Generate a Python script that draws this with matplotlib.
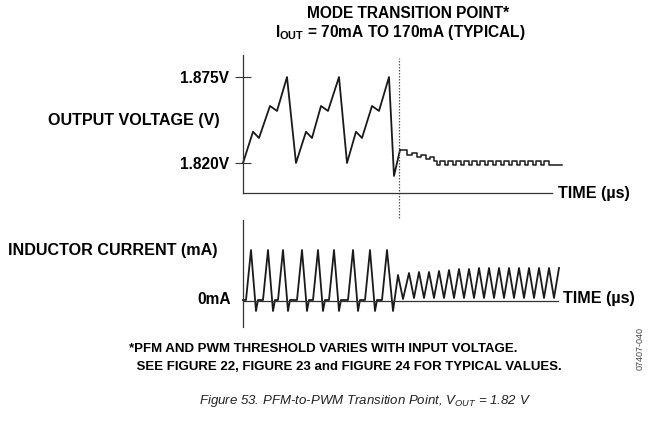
import matplotlib.pyplot as plt

plt.rcParams['font.family'] = ['Liberation Sans', 'DejaVu Sans']
plt.rcParams['mathtext.fontset'] = 'custom'
plt.rcParams['mathtext.rm'] = 'Liberation Sans'
plt.rcParams['mathtext.bf'] = 'Liberation Sans:bold'
plt.rcParams['mathtext.it'] = 'Liberation Sans:italic'

# output voltage, PFM part (time in us, volts)
t_pfm_v = [0.0, 1.0, 1.6, 2.7, 3.4, 4.4, 5.3, 6.3, 6.9, 7.8, 8.5, 9.6,
           10.4, 11.3, 11.9, 12.9, 13.6, 14.6, 15.1, 15.7]
v_pfm = [1.820, 1.840, 1.836, 1.8565, 1.8533, 1.875, 1.820, 1.840, 1.836,
         1.8565, 1.8533, 1.875, 1.820, 1.840, 1.836, 1.8565, 1.8533, 1.875,
         1.8117, 1.8283]

# output voltage, PWM part (step levels)
t_pwm_v = [15.7, 16.4, 16.9, 17.4, 17.8, 18.3, 18.7, 19.1,
           19.4, 19.7, 20.2, 20.5, 21.0, 21.3, 21.8, 22.1, 22.6, 22.9,
           23.4, 23.7, 24.2, 24.5, 25.0, 25.3, 25.8, 26.1, 26.6, 26.9,
           27.4, 27.7, 28.2, 28.5, 29.0, 29.3, 29.8, 30.1, 30.6, 31.9]
v_pwm = [1.8283, 1.8251, 1.8264, 1.8238, 1.8251, 1.8226, 1.8238, 1.8213,
         1.8187, 1.8213, 1.8187, 1.8213, 1.8187, 1.8213, 1.8187, 1.8213,
         1.8187, 1.8213, 1.8187, 1.8213, 1.8187, 1.8213, 1.8187, 1.8213,
         1.8187, 1.8213, 1.8187, 1.8213, 1.8187, 1.8213, 1.8187, 1.8213,
         1.8187, 1.8213, 1.8187, 1.8213, 1.8187, 1.8187]

# inductor current (mA)
t_pfm_i = [0.0, 0.3, 0.8, 1.3, 1.5, 2.0, 2.5, 3.0, 3.2, 3.5, 4.0, 4.5, 4.7,
           5.4, 5.9, 6.4, 6.6, 7.0, 7.5, 8.0, 8.2, 8.6, 9.1, 9.6, 9.8,
           10.5, 11.0, 11.5, 11.7, 12.2, 12.7, 13.2, 13.4, 13.9, 14.4, 15.0]
i_pfm = [5, 5, 255, -50, 5, 5, 255, -50, 5, 5, 255, -50, 5,
         5, 255, -50, 5, 5, 255, -50, 5, 5, 255, -50, 5,
         5, 255, -50, 5, 5, 255, -50, 5, 5, 255, -50]
t_pwm_i = [15.5, 16.0, 16.6, 17.1, 17.6, 18.1, 18.6, 19.1, 19.6, 20.1,
           20.6, 21.1, 21.6, 22.1, 22.6, 23.1, 23.6, 24.1, 24.6, 25.1,
           25.6, 26.1, 26.6, 27.1, 27.6, 28.1, 28.6, 29.1, 29.6, 30.1,
           30.6, 31.1, 31.6]
i_pwm = [130, 10, 140, 15, 145, 15, 145, 15, 150, 15,
         155, 15, 160, 15, 160, 15, 165, 15, 165, 15,
         165, 15, 165, 15, 165, 15, 165, 15, 165, 15,
         165, 15, 165]

t_transition = 15.6
v_ticks = [1.875, 1.820]
v_ticklabels = ['1.875V', '1.820V']

W, H = 656, 424


def fx(x):
    return x / W


def fy(y):
    return 1 - y / H


fig = plt.figure(figsize=(6.56, 4.24), dpi=100)

# top panel: output voltage
ax1 = fig.add_axes([fx(243), fy(193), (552 - 243) / W, (193 - 55) / H])
ax1.plot(t_pfm_v, v_pfm, color='#1a1a1a', lw=1.3, clip_on=False)
ax1.plot(t_pwm_v, v_pwm, color='#1a1a1a', lw=1.1, drawstyle='steps-post',
         clip_on=False)
ax1.set_xlim(0, 30.9)
ax1.set_ylim(1.8008, 1.8891)
ax1.set_xticks([])
ax1.set_yticks(v_ticks)
ax1.set_yticklabels(v_ticklabels, fontsize=11.2, fontweight='bold')
ax1.tick_params(axis='y', direction='inout', length=12, width=0.8,
                color='#333333', pad=4)
for s in ['top', 'right']:
    ax1.spines[s].set_visible(False)
for s in ['left', 'bottom']:
    ax1.spines[s].set_linewidth(0.9)
    ax1.spines[s].set_color('#333333')
ax1.axvline(t_transition, ymin=-0.92, ymax=0.978, clip_on=False,
            color='#555555', lw=0.9, ls=(0, (1.2, 1.2)))

# bottom panel: inductor current
ax2 = fig.add_axes([fx(243), fy(327), (558 - 243) / W, (327 - 220) / H])
ax2.plot(t_pfm_i + t_pwm_i, i_pfm + i_pwm, color='#1a1a1a', lw=1.3,
         clip_on=False)
ax2.set_xlim(0, 31.5)
ax2.set_ylim(-130, 405)
ax2.set_xticks([])
ax2.set_yticks([])
ax2.spines['bottom'].set_position(('data', 0))
for s in ['top', 'right']:
    ax2.spines[s].set_visible(False)
for s in ['left', 'bottom']:
    ax2.spines[s].set_linewidth(0.9)
    ax2.spines[s].set_color('#333333')

title = dict(fontsize=11.2, fontweight='bold', color='black')
bold = dict(fontsize=11.6, fontweight='bold', color='black')
foot = dict(fontsize=9.5, fontweight='bold', color='black')
fig.text(fx(408), fy(13), 'MODE TRANSITION POINT*', ha='center', va='center', **title)
fig.text(fx(400), fy(32), r'$\mathbf{I_{OUT}}$ = 70mA TO 170mA (TYPICAL)',
         ha='center', va='center', **title)
fig.text(fx(48), fy(120), 'OUTPUT VOLTAGE (V)', ha='left', va='center', **bold)
fig.text(fx(558), fy(193), 'TIME (µs)', ha='left', va='center', **bold)
fig.text(fx(8), fy(250), 'INDUCTOR CURRENT (mA)', ha='left', va='center', **bold)
fig.text(fx(231), fy(300), '0mA', ha='right', va='center', **title)
fig.text(fx(563), fy(298), 'TIME (µs)', ha='left', va='center', **bold)
fig.text(fx(129), fy(349), '*PFM AND PWM THRESHOLD VARIES WITH INPUT VOLTAGE.',
         ha='left', va='center', **foot)
fig.text(fx(133), fy(367), ' SEE FIGURE 22, FIGURE 23 and FIGURE 24 FOR TYPICAL VALUES.',
         ha='left', va='center', **foot)
fig.text(fx(365), fy(401), r'Figure 53. PFM-to-PWM Transition Point, $V_{OUT}$ = 1.82 V',
         ha='center', va='center', fontsize=9.5, style='italic', color='#222222')
fig.text(fx(640), fy(348), '07407-040', ha='center', va='center', rotation=90,
         fontsize=6.5, color='#444444')

fig.savefig('out.png', dpi=100)
